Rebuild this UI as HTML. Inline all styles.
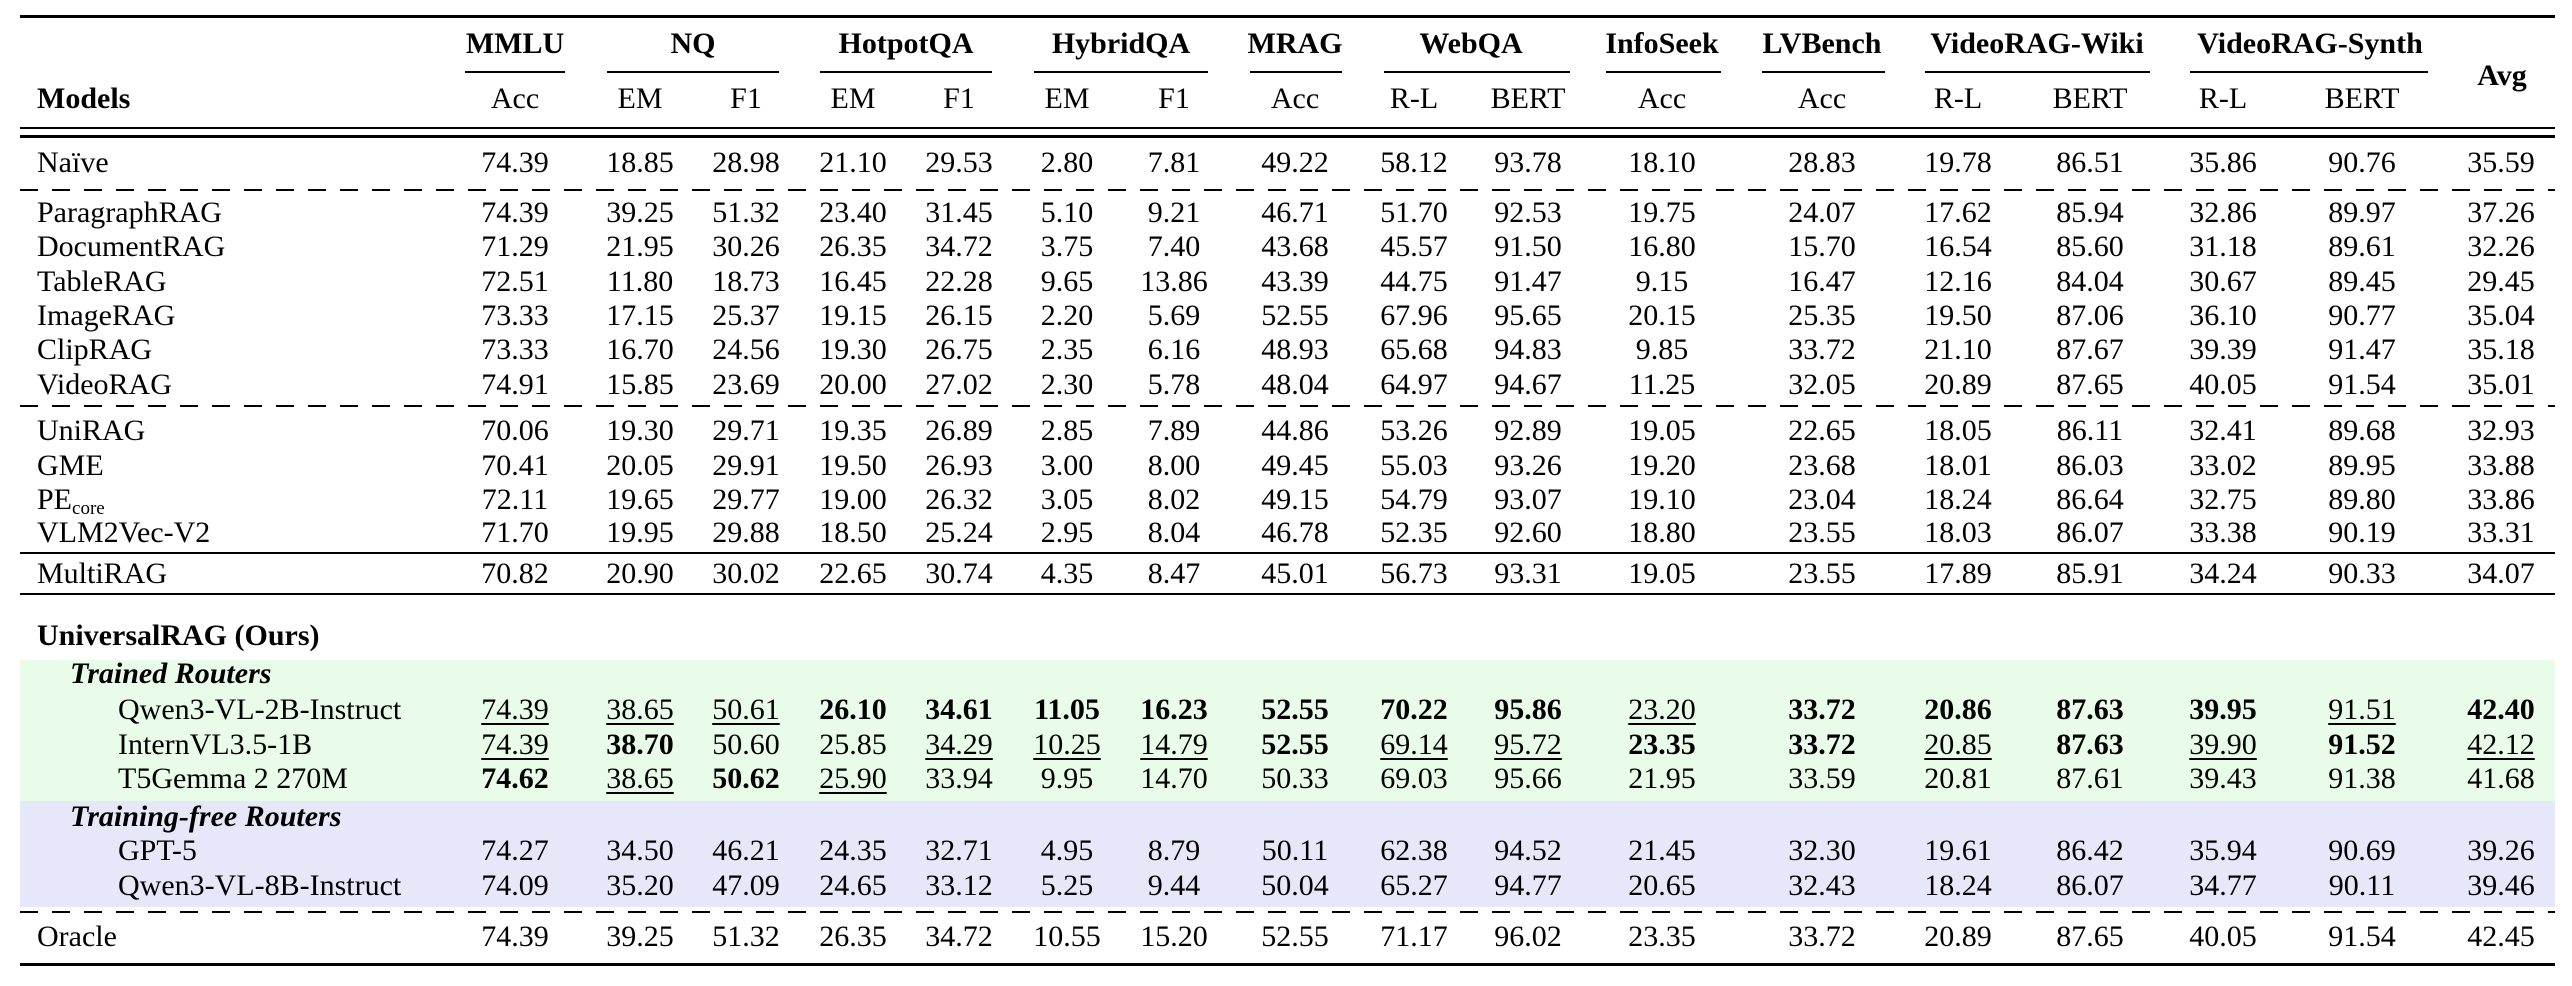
<!DOCTYPE html>
<html><head><meta charset="utf-8"><style>
body{margin:0;background:#fff;}
#p{position:relative;width:2572px;height:986px;overflow:hidden;background:#fff;font-family:"Liberation Serif",serif;font-size:30px;color:#000;}
.ln{position:absolute;left:20px;width:2535px;background:#000;}
.ds{position:absolute;left:20px;width:2535px;height:2px;background:repeating-linear-gradient(90deg,#000 0 18px,transparent 18px 32px);}
.bg{position:absolute;left:20px;width:2535px;}
.r{position:absolute;left:0;width:2572px;height:0;}
.r>span{position:absolute;top:0;transform:translate(-50%,-50%);white-space:nowrap;line-height:34px;}
.r>span:nth-child(1){left:37px;transform:translate(0,-50%);}
.r>span.i1{left:70px;}
.r>span.i2{left:118px;}
.r>span:nth-child(2){left:515px}
.r>span:nth-child(3){left:640px}
.r>span:nth-child(4){left:746px}
.r>span:nth-child(5){left:853px}
.r>span:nth-child(6){left:959px}
.r>span:nth-child(7){left:1067px}
.r>span:nth-child(8){left:1174px}
.r>span:nth-child(9){left:1295px}
.r>span:nth-child(10){left:1414px}
.r>span:nth-child(11){left:1528px}
.r>span:nth-child(12){left:1662px}
.r>span:nth-child(13){left:1822px}
.r>span:nth-child(14){left:1958px}
.r>span:nth-child(15){left:2090px}
.r>span:nth-child(16){left:2223px}
.r>span:nth-child(17){left:2362px}
.r>span:nth-child(18){left:2501px}
u{text-decoration-thickness:2px;text-underline-offset:4px;}
.h{position:absolute;transform:translate(-50%,-50%);font-weight:bold;white-space:nowrap;}
.gl{position:absolute;top:71px;height:2px;background:#000;}
sub{font-size:19px;vertical-align:-5px;line-height:0;}
</style></head><body><div id="p">
<div class="bg" style="top:660px;height:141px;background:#e9fbe9"></div>
<div class="bg" style="top:801px;height:106px;background:#e7e7fa"></div>

<div class="ln" style="top:15px;height:3px"></div>
<div class="h" style="left:515px;top:44px">MMLU</div>
<div class="h" style="left:693px;top:44px">NQ</div>
<div class="h" style="left:906px;top:44px">HotpotQA</div>
<div class="h" style="left:1121px;top:44px">HybridQA</div>
<div class="h" style="left:1295px;top:44px">MRAG</div>
<div class="h" style="left:1471px;top:44px">WebQA</div>
<div class="h" style="left:1662px;top:44px">InfoSeek</div>
<div class="h" style="left:1822px;top:44px">LVBench</div>
<div class="h" style="left:2037px;top:44px">VideoRAG-Wiki</div>
<div class="h" style="left:2310px;top:44px">VideoRAG-Synth</div>
<div class="h" style="left:2502px;top:76px">Avg</div>
<div class="gl" style="left:465px;width:100px"></div>
<div class="gl" style="left:607px;width:172px"></div>
<div class="gl" style="left:820px;width:172px"></div>
<div class="gl" style="left:1034px;width:174px"></div>
<div class="gl" style="left:1250px;width:92px"></div>
<div class="gl" style="left:1384px;width:186px"></div>
<div class="gl" style="left:1606px;width:115px"></div>
<div class="gl" style="left:1762px;width:123px"></div>
<div class="gl" style="left:1925px;width:225px"></div>
<div class="gl" style="left:2190px;width:238px"></div>
<div class="r" style="top:99px"><span><b>Models</b></span><span>Acc</span><span>EM</span><span>F1</span><span>EM</span><span>F1</span><span>EM</span><span>F1</span><span>Acc</span><span>R-L</span><span>BERT</span><span>Acc</span><span>Acc</span><span>R-L</span><span>BERT</span><span>R-L</span><span>BERT</span></div>
<div class="ln" style="top:127px;height:2px"></div>
<div class="ln" style="top:135px;height:3px"></div>

<div class="r" style="top:163px"><span>Naïve</span><span>74.39</span><span>18.85</span><span>28.98</span><span>21.10</span><span>29.53</span><span>2.80</span><span>7.81</span><span>49.22</span><span>58.12</span><span>93.78</span><span>18.10</span><span>28.83</span><span>19.78</span><span>86.51</span><span>35.86</span><span>90.76</span><span>35.59</span></div>
<div class="ds" style="top:189px"></div>
<div class="r" style="top:213px"><span>ParagraphRAG</span><span>74.39</span><span>39.25</span><span>51.32</span><span>23.40</span><span>31.45</span><span>5.10</span><span>9.21</span><span>46.71</span><span>51.70</span><span>92.53</span><span>19.75</span><span>24.07</span><span>17.62</span><span>85.94</span><span>32.86</span><span>89.97</span><span>37.26</span></div>
<div class="r" style="top:247px"><span>DocumentRAG</span><span>71.29</span><span>21.95</span><span>30.26</span><span>26.35</span><span>34.72</span><span>3.75</span><span>7.40</span><span>43.68</span><span>45.57</span><span>91.50</span><span>16.80</span><span>15.70</span><span>16.54</span><span>85.60</span><span>31.18</span><span>89.61</span><span>32.26</span></div>
<div class="r" style="top:282px"><span>TableRAG</span><span>72.51</span><span>11.80</span><span>18.73</span><span>16.45</span><span>22.28</span><span>9.65</span><span>13.86</span><span>43.39</span><span>44.75</span><span>91.47</span><span>9.15</span><span>16.47</span><span>12.16</span><span>84.04</span><span>30.67</span><span>89.45</span><span>29.45</span></div>
<div class="r" style="top:316px"><span>ImageRAG</span><span>73.33</span><span>17.15</span><span>25.37</span><span>19.15</span><span>26.15</span><span>2.20</span><span>5.69</span><span>52.55</span><span>67.96</span><span>95.65</span><span>20.15</span><span>25.35</span><span>19.50</span><span>87.06</span><span>36.10</span><span>90.77</span><span>35.04</span></div>
<div class="r" style="top:350px"><span>ClipRAG</span><span>73.33</span><span>16.70</span><span>24.56</span><span>19.30</span><span>26.75</span><span>2.35</span><span>6.16</span><span>48.93</span><span>65.68</span><span>94.83</span><span>9.85</span><span>33.72</span><span>21.10</span><span>87.67</span><span>39.39</span><span>91.47</span><span>35.18</span></div>
<div class="r" style="top:385px"><span>VideoRAG</span><span>74.91</span><span>15.85</span><span>23.69</span><span>20.00</span><span>27.02</span><span>2.30</span><span>5.78</span><span>48.04</span><span>64.97</span><span>94.67</span><span>11.25</span><span>32.05</span><span>20.89</span><span>87.65</span><span>40.05</span><span>91.54</span><span>35.01</span></div>
<div class="ds" style="top:405px"></div>
<div class="r" style="top:431px"><span>UniRAG</span><span>70.06</span><span>19.30</span><span>29.71</span><span>19.35</span><span>26.89</span><span>2.85</span><span>7.89</span><span>44.86</span><span>53.26</span><span>92.89</span><span>19.05</span><span>22.65</span><span>18.05</span><span>86.11</span><span>32.41</span><span>89.68</span><span>32.93</span></div>
<div class="r" style="top:466px"><span>GME</span><span>70.41</span><span>20.05</span><span>29.91</span><span>19.50</span><span>26.93</span><span>3.00</span><span>8.00</span><span>49.45</span><span>55.03</span><span>93.26</span><span>19.20</span><span>23.68</span><span>18.01</span><span>86.03</span><span>33.02</span><span>89.95</span><span>33.88</span></div>
<div class="r" style="top:500px"><span>PE<sub>core</sub></span><span>72.11</span><span>19.65</span><span>29.77</span><span>19.00</span><span>26.32</span><span>3.05</span><span>8.02</span><span>49.15</span><span>54.79</span><span>93.07</span><span>19.10</span><span>23.04</span><span>18.24</span><span>86.64</span><span>32.75</span><span>89.80</span><span>33.86</span></div>
<div class="r" style="top:533px"><span>VLM2Vec-V2</span><span>71.70</span><span>19.95</span><span>29.88</span><span>18.50</span><span>25.24</span><span>2.95</span><span>8.04</span><span>46.78</span><span>52.35</span><span>92.60</span><span>18.80</span><span>23.55</span><span>18.03</span><span>86.07</span><span>33.38</span><span>90.19</span><span>33.31</span></div>
<div class="ln" style="top:552px;height:2px"></div>
<div class="r" style="top:574px"><span>MultiRAG</span><span>70.82</span><span>20.90</span><span>30.02</span><span>22.65</span><span>30.74</span><span>4.35</span><span>8.47</span><span>45.01</span><span>56.73</span><span>93.31</span><span>19.05</span><span>23.55</span><span>17.89</span><span>85.91</span><span>34.24</span><span>90.33</span><span>34.07</span></div>
<div class="ln" style="top:593px;height:2px"></div>
<div class="r" style="top:636px"><span><b>UniversalRAG (Ours)</b></span></div>
<div class="r" style="top:674px"><span class="i1"><b><i>Trained Routers</i></b></span></div>
<div class="r" style="top:710px"><span class="i2">Qwen3-VL-2B-Instruct</span><span><u>74.39</u></span><span><u>38.65</u></span><span><u>50.61</u></span><span><b>26.10</b></span><span><b>34.61</b></span><span><b>11.05</b></span><span><b>16.23</b></span><span><b>52.55</b></span><span><b>70.22</b></span><span><b>95.86</b></span><span><u>23.20</u></span><span><b>33.72</b></span><span><b>20.86</b></span><span><b>87.63</b></span><span><b>39.95</b></span><span><u>91.51</u></span><span><b>42.40</b></span></div>
<div class="r" style="top:745px"><span class="i2">InternVL3.5-1B</span><span><u>74.39</u></span><span><b>38.70</b></span><span>50.60</span><span>25.85</span><span><u>34.29</u></span><span><u>10.25</u></span><span><u>14.79</u></span><span><b>52.55</b></span><span><u>69.14</u></span><span><u>95.72</u></span><span><b>23.35</b></span><span><b>33.72</b></span><span><u>20.85</u></span><span><b>87.63</b></span><span><u>39.90</u></span><span><b>91.52</b></span><span><u>42.12</u></span></div>
<div class="r" style="top:779px"><span class="i2">T5Gemma 2 270M</span><span><b>74.62</b></span><span><u>38.65</u></span><span><b>50.62</b></span><span><u>25.90</u></span><span>33.94</span><span>9.95</span><span>14.70</span><span>50.33</span><span>69.03</span><span>95.66</span><span>21.95</span><span>33.59</span><span>20.81</span><span>87.61</span><span>39.43</span><span>91.38</span><span>41.68</span></div>
<div class="r" style="top:817px"><span class="i1"><b><i>Training-free Routers</i></b></span></div>
<div class="r" style="top:851px"><span class="i2">GPT-5</span><span>74.27</span><span>34.50</span><span>46.21</span><span>24.35</span><span>32.71</span><span>4.95</span><span>8.79</span><span>50.11</span><span>62.38</span><span>94.52</span><span>21.45</span><span>32.30</span><span>19.61</span><span>86.42</span><span>35.94</span><span>90.69</span><span>39.26</span></div>
<div class="r" style="top:886px"><span class="i2">Qwen3-VL-8B-Instruct</span><span>74.09</span><span>35.20</span><span>47.09</span><span>24.65</span><span>33.12</span><span>5.25</span><span>9.44</span><span>50.04</span><span>65.27</span><span>94.77</span><span>20.65</span><span>32.43</span><span>18.24</span><span>86.07</span><span>34.77</span><span>90.11</span><span>39.46</span></div>
<div class="ds" style="top:911px"></div>
<div class="r" style="top:937px"><span>Oracle</span><span>74.39</span><span>39.25</span><span>51.32</span><span>26.35</span><span>34.72</span><span>10.55</span><span>15.20</span><span>52.55</span><span>71.17</span><span>96.02</span><span>23.35</span><span>33.72</span><span>20.89</span><span>87.65</span><span>40.05</span><span>91.54</span><span>42.45</span></div>
<div class="ln" style="top:963px;height:3px"></div>
</div></body></html>
